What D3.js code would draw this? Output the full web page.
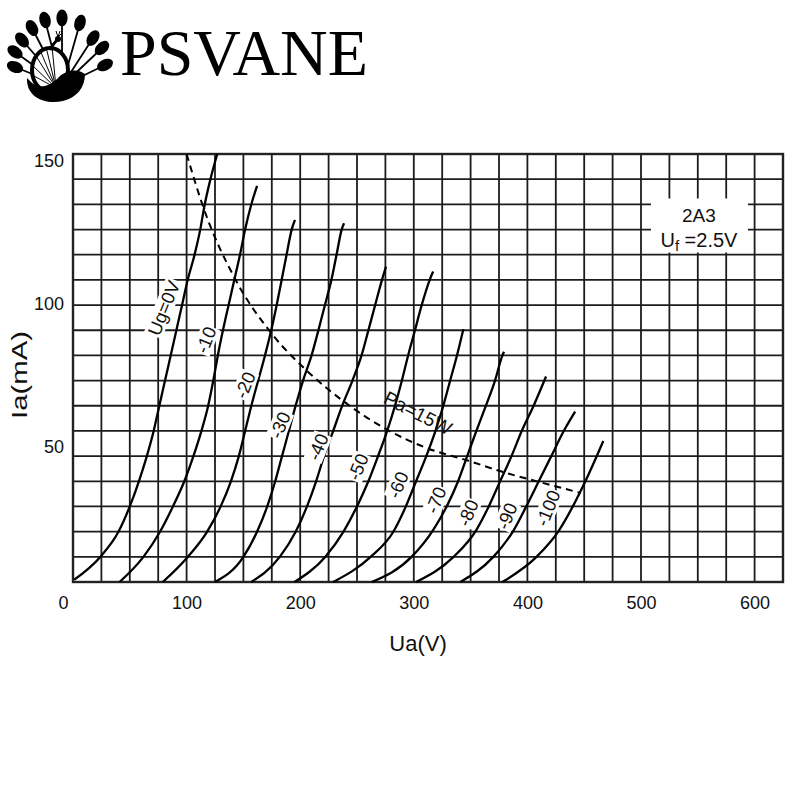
<!DOCTYPE html>
<html>
<head>
<meta charset="utf-8">
<script src="https://cdn.jsdelivr.net/npm/d3@7"></script>
<style>
  body { margin: 0; background: #fff; }
  text { font-family: "Liberation Sans", Arial, sans-serif; fill: #111; }
</style>
</head>
<body>
<div id="chart"></div>
<script>
// axis ticks
var xTicks = [0, 100, 200, 300, 400, 500, 600];
var yTicks = [50, 100, 150];

// anode curves, [Ua (V), Ia (mA)]
var ug0    = [[1,0.8],[24,8.8],[40,17.6],[50,26.5],[58,35.3],[65,44.1],[71,52.9],[76,61.8],[81,70.6],[86,79.4],[91,88.2],[96,97.1],[101,105.9],[107,114.7],[112,123.5],[116,132.4],[121,141.2],[127,150]];
var ugM10  = [[41,0],[62,8.8],[76.6,17.6],[88,26.5],[98,35.3],[106,44.1],[113,52.9],[119,61.8],[123.5,70.6],[127.5,79.4],[132,88.2],[137,97.1],[142,105.9],[147,114.7],[151.5,123.5],[157,132.4],[162,138.8]];
var ugM20  = [[79,0],[101,8.8],[118,17.6],[130,26.5],[139,35.3],[146,44.1],[151.5,52.9],[157,61.8],[163,70.6],[169,79.4],[174.5,88.2],[179.3,97.1],[183.7,105.9],[188,114.7],[192.5,123.5],[195.4,126.9]];
var ugM30  = [[125,0],[150,8.8],[162,17.6],[171,26.5],[178,35.3],[184,44.1],[190,52.9],[196,61.8],[202.5,70.6],[210,79.4],[216,88.2],[221.8,97.1],[227.5,105.9],[232,114.7],[236.5,123.5],[238.6,125.7]];
var ugM40  = [[157,0],[182,8.8],[196,17.6],[206,26.5],[214,35.3],[221,44.1],[229,52.9],[237,61.8],[246,70.6],[254,79.4],[260,88.2],[266,97.1],[272,105.9],[275.5,110.5]];
var ugM50  = [[195,0],[222,8.8],[238,17.6],[250,26.5],[260,35.3],[268.5,44.1],[276.5,52.9],[283.5,61.8],[289.5,70.6],[295,79.4],[301,88.2],[307,97.1],[314,105.9],[317,108.8]];
var ugM60  = [[229,0],[262,8.8],[282,17.6],[293,26.5],[302,35.3],[311,44.1],[319,52.9],[326,61.8],[332,70.6],[338,79.4],[343.6,88.6]];
var ugM70  = [[263,0],[298,8.8],[317,18.2],[329,26.5],[339,35.3],[347,44.1],[355,52.9],[363.5,61.8],[371.5,70.6],[378,79.4],[379.4,80.7]];
var ugM80  = [[302,0],[335,8.8],[355,18.2],[366,26.5],[376,35.3],[386,44.1],[395,52.9],[405.5,61.8],[416.4,72]];
var ugM90  = [[341,0],[370,8.8],[388,18.2],[399,26.5],[410,35.3],[421,44.1],[432,52.9],[442,59.7]];
var ugM100 = [[378,0],[408,8.8],[428,18.2],[440,26.5],[451,35.3],[461,44.1],[466.8,49.4]];

var curves = [ug0, ugM10, ugM20, ugM30, ugM40, ugM50, ugM60, ugM70, ugM80, ugM90, ugM100];

// curve labels and where they sit (Ua, Ia)
var curveLabels = ["Ug=0V", "-10", "-20", "-30", "-40", "-50", "-60", "-70", "-80", "-90", "-100"];
var labelSpots  = [[80,96],[117,84.8],[151.4,69],[182.2,55],[215.7,47.3],[250.9,40.3],[286.1,34],[319.5,28.7],[347.7,24.2],[382,23.1],[418.1,25.9]];

// Pa = 15W dissipation limit
var paCurve = [[100,150],[115,131],[143,106],[175,87],[206,74],[241,62.5],[276,53.5],[311,47],[348,42.5],[379,38.5],[411,35],[447,31.2]];

var svg = d3.select("#chart").append("svg")
    .attr("width", 800)
    .attr("height", 800);

// ---- logo ----
var logo = svg.append("g");
var fanCenter = [62, 86];
var tips = [[15,67],[15,52],[22,40],[32,28],[45,20],[62,18],[80,23],[93,38],[102,48],[105,65]];
tips.forEach(function(t) {
  var ang = Math.atan2(t[1] - fanCenter[1], t[0] - fanCenter[0]) * 180 / Math.PI;
  logo.append("line")
    .attr("x1", fanCenter[0]).attr("y1", fanCenter[1])
    .attr("x2", t[0]).attr("y2", t[1])
    .attr("stroke", "#000").attr("stroke-width", 1.8);
  logo.append("ellipse")
    .attr("cx", t[0]).attr("cy", t[1])
    .attr("rx", 8.5).attr("ry", 5.6)
    .attr("transform", "rotate(" + ang + "," + t[0] + "," + t[1] + ")")
    .attr("fill", "#000");
});
// wing
logo.append("ellipse")
  .attr("cx", 50).attr("cy", 70).attr("rx", 18).attr("ry", 22)
  .attr("fill", "#fff").attr("stroke", "#000").attr("stroke-width", 4);
[[36,56],[40,50],[46,47],[52,46],[33,66],[34,76]].forEach(function(p) {
  logo.append("line")
    .attr("x1", 56).attr("y1", 88).attr("x2", p[0]).attr("y2", p[1])
    .attr("stroke", "#000").attr("stroke-width", 1);
});
// neck and head
logo.append("path")
  .attr("d", "M50,50 C52,46 54,43 57,40")
  .attr("fill", "none").attr("stroke", "#000").attr("stroke-width", 3);
logo.append("circle").attr("cx", 58).attr("cy", 39).attr("r", 3).attr("fill", "#000");
logo.append("path")
  .attr("d", "M58,37 L56,31 M58,37 L60,31 M58,37 L62,33")
  .attr("stroke", "#000").attr("stroke-width", 1);
// body mass
logo.append("path")
  .attr("d", "M27,78 C26,98 46,105 63,101 C76,98 85,88 85,74 C77,68 66,70 59,77 C51,86 39,90 31,82 Z")
  .attr("fill", "#000");

svg.append("text")
  .attr("x", 120).attr("y", 75)
  .attr("textLength", 248)
  .attr("lengthAdjust", "spacingAndGlyphs")
  .style("font-family", "'Liberation Serif', 'Times New Roman', serif")
  .style("font-size", "66px")
  .style("fill", "#000")
  .text("PSVANE");

// ---- scales ----
var x = d3.scaleLinear().domain([0, 625]).range([73, 783]);
var y = d3.scaleLinear().domain([0, 150]).range([582, 154]);

var xGrid = d3.range(0, 626, 25);
var yGrid = d3.range(0, 18).map(function(i) { return i * 150 / 17; });

var grid = svg.append("g").attr("class", "grid");
grid.selectAll("line.v").data(xGrid).enter().append("line")
  .attr("class", "v")
  .attr("x1", function(d) { return x(d); }).attr("x2", function(d) { return x(d); })
  .attr("y1", y(0)).attr("y2", y(150))
  .attr("stroke", "#1c1c1c").attr("stroke-width", 1.8);
grid.selectAll("line.h").data(yGrid).enter().append("line")
  .attr("class", "h")
  .attr("x1", x(0)).attr("x2", x(625))
  .attr("y1", function(d) { return y(d); }).attr("y2", function(d) { return y(d); })
  .attr("stroke", "#1c1c1c").attr("stroke-width", 1.8);

svg.append("rect")
  .attr("x", x(0)).attr("y", y(150))
  .attr("width", x(625) - x(0)).attr("height", y(0) - y(150))
  .attr("fill", "none").attr("stroke", "#222").attr("stroke-width", 2.4);

// ---- axes (labels only, the grid is the frame) ----
var xAxis = d3.axisBottom(x).tickValues(xTicks).tickSize(0).tickPadding(14);
var gx = svg.append("g")
  .attr("transform", "translate(0," + y(0) + ")")
  .call(xAxis);
gx.select(".domain").remove();
gx.selectAll("text").style("font-size", "18px").attr("fill", "#111");
gx.selectAll("text").filter(function(d) { return d === 0; }).attr("dx", -10);

var yAxis = d3.axisLeft(y).tickValues(yTicks).tickSize(0).tickPadding(9);
var gy = svg.append("g")
  .attr("transform", "translate(" + x(0) + ",0)")
  .call(yAxis);
gy.select(".domain").remove();
gy.selectAll("text").style("font-size", "18px").attr("fill", "#111").attr("dy", "0.72em");

svg.append("text")
  .attr("x", 418).attr("y", 651)
  .attr("text-anchor", "middle")
  .style("font-size", "22px")
  .text("Ua(V)");

svg.append("text")
  .attr("transform", "translate(27,375) rotate(-90)")
  .attr("text-anchor", "middle")
  .attr("textLength", 88)
  .attr("lengthAdjust", "spacingAndGlyphs")
  .style("font-size", "22px")
  .text("Ia(mA)");

// ---- legend box ----
var legend = svg.append("g").attr("transform", "translate(" + x(551) + "," + y(126) + ")");
legend.append("rect")
  .attr("x", -48).attr("y", -24).attr("width", 97).attr("height", 54)
  .attr("fill", "#fff");
legend.append("text")
  .attr("text-anchor", "middle").attr("y", 0)
  .style("font-size", "19px")
  .text("2A3");
var uf = legend.append("text")
  .attr("text-anchor", "middle").attr("y", 25)
  .style("font-size", "20px");
uf.append("tspan").text("U");
uf.append("tspan").attr("dy", 4).style("font-size", "15px").text("f");
uf.append("tspan").attr("dy", -4).text(" =2.5V");

// ---- curves ----
var line = d3.line()
  .x(function(d) { return x(d[0]); })
  .y(function(d) { return y(d[1]); })
  .curve(d3.curveMonotoneX);

svg.append("g").selectAll("path").data(curves).enter().append("path")
  .attr("d", line)
  .attr("fill", "none")
  .attr("stroke", "#000")
  .attr("stroke-width", 2.3);

svg.append("path")
  .datum(paCurve)
  .attr("d", line)
  .attr("fill", "none")
  .attr("stroke", "#000")
  .attr("stroke-width", 2)
  .attr("stroke-dasharray", "7,5");

// curve labels, rotated along the curves on a white patch
var lbl = svg.append("g").selectAll("g").data(curveLabels).enter().append("g")
  .attr("transform", function(d, i) {
    var p = labelSpots[i];
    return "translate(" + x(p[0]) + "," + y(p[1]) + ") rotate(-68)";
  });
lbl.append("rect").attr("fill", "#fff");
lbl.append("text")
  .attr("text-anchor", "middle")
  .attr("dy", "0.35em")
  .style("font-size", "18.5px")
  .text(function(d) { return d; });
lbl.each(function() {
  var g = d3.select(this);
  var b = g.select("text").node().getBBox();
  g.select("rect")
    .attr("x", b.x - 1).attr("y", b.y + 1)
    .attr("width", b.width + 2).attr("height", b.height - 2);
});

svg.append("text")
  .attr("transform", "translate(" + x(303.7) + "," + y(59.2) + ") rotate(27)")
  .attr("text-anchor", "middle")
  .attr("dy", "0.35em")
  .style("font-size", "19px")
  .text("Pa=15W");
</script>
</body>
</html>
